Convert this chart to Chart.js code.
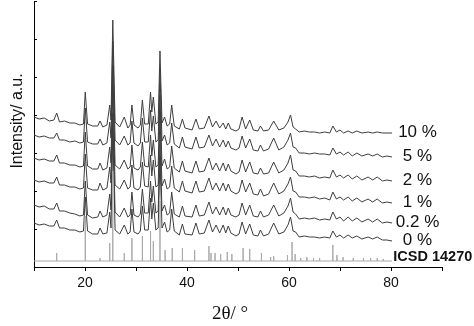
<!DOCTYPE html>
<html>
<head>
<meta charset="utf-8">
<script src="https://cdn.jsdelivr.net/npm/chart.js@4.4.0/dist/chart.umd.min.js"></script>
<style>
html, body { margin: 0; padding: 0; background: #fff; }
</style>
</head>
<body>
<canvas id="myChart" width="474" height="326"></canvas>
<script>
"use strict";
/* ---------------------- DATA --------------------*/
var twoTheta = [
  10.0, 11.0, 12.0, 13.0, 13.9, 14.45, 15.0, 16.0, 17.0, 18.0,
  19.0, 19.7, 20.05, 20.5, 21.5, 22.5, 22.95, 23.5, 24.3, 24.85,
  25.1, 25.45, 25.9, 26.8, 27.7, 28.4, 28.85, 29.2, 29.6, 30.4,
  30.85, 31.25, 31.7, 32.4, 32.85, 33.1, 33.4, 33.9, 34.35, 34.7,
  35.1, 35.6, 36.1, 36.6, 37.0, 37.5, 38.5, 39.1, 39.6, 41.0,
  41.75, 42.4, 43.4, 44.3, 45.0, 45.7, 46.4, 47.1, 47.6, 48.1,
  48.6, 49.6, 50.2, 50.8, 51.5, 52.3, 53.0, 53.9, 54.4, 55.0,
  56.0, 57.0, 58.0, 59.0, 59.8, 60.3, 60.8, 61.3, 62.0, 63.0,
  64.0, 65.0, 66.0, 67.0, 68.0, 68.6, 69.3, 70.0, 70.7, 71.6,
  72.4, 73.3, 74.3, 75.5, 76.4, 77.3, 78.3, 79.2, 80.2
];

var int10 = [
  150,148,149,146,147,154,145,146,144,144,
  142,143,175,143,141,141,146,140,142,162,
  147,247,145,140,150,139,142,162,142,139,
  142,167,143,143,175,155,170,143,145,216,
  144,150,141,143,162,141,138,148,139,137,
  148,138,139,151,140,146,139,144,138,144,
  138,136,138,150,138,147,137,136,141,136,
  137,146,137,139,145,152,140,138,135,136,
  135,135,134,135,134,141,135,137,134,136,
  134,136,134,135,134,135,134,134,134
];
var int5 = [
  132,130,131,129,129,134,127,127,125,126,
  124,125,159,125,123,123,128,122,124,145,
  129,226,127,122,131,122,124,146,124,121,
  124,149,125,125,157,136,151,125,127,196,
  126,132,122,124,144,123,119,130,120,118,
  130,119,120,132,121,128,120,127,120,126,
  119,117,119,131,119,128,117,116,122,116,
  118,129,117,120,127,134,120,119,114,114,
  113,114,113,113,112,119,113,115,112,115,
  111,114,111,113,111,113,110,111,110
];
var int2 = [
  109,107,108,106,106,112,104,104,102,102,
  100,101,135,101,98,98,104,97,99,120,
  104,202,102,98,107,98,100,122,99,97,
  100,125,101,100,132,111,127,100,102,172,
  101,108,98,100,121,99,95,106,96,94,
  106,95,96,109,97,104,96,104,96,103,
  96,93,95,107,95,105,94,93,99,93,
  94,105,94,97,104,112,97,96,91,91,
  90,91,89,90,89,97,90,92,89,92,
  88,91,87,90,87,90,86,87,86
];
var int1 = [
  87,85,86,84,84,90,82,82,80,80,
  78,79,113,79,77,77,84,77,79,100,
  84,182,82,78,87,78,80,102,79,77,
  80,105,81,80,112,91,107,80,82,152,
  81,88,78,80,101,79,75,86,76,74,
  86,75,76,89,77,84,76,84,76,83,
  76,73,75,87,75,84,73,72,78,71,
  73,84,73,76,83,90,76,75,70,70,
  69,70,68,69,67,75,68,70,67,70,
  66,69,65,68,65,68,64,65,64
];
var int02 = [
  62,60,61,58,58,64,56,56,54,53,
  51,52,86,52,49,50,56,50,52,73,
  57,154,55,50,59,50,52,75,52,50,
  53,78,54,54,86,65,81,54,56,127,
  56,62,52,54,75,53,50,61,51,50,
  62,51,52,65,53,60,52,60,52,59,
  52,50,52,64,52,62,51,50,56,50,
  52,62,51,54,61,69,55,53,48,49,
  48,49,47,48,47,55,48,50,46,50,
  46,49,45,48,45,48,44,45,44
];
var int0 = [
  44,42,43,41,41,47,39,39,37,37,
  35,36,70,36,33,33,39,33,34,55,
  39,137,37,33,42,33,35,58,35,33,
  36,61,37,37,69,48,64,37,39,110,
  39,45,35,37,58,36,32,43,33,32,
  44,33,34,47,35,42,34,42,34,41,
  34,31,33,45,33,43,32,31,37,31,
  33,44,33,35,42,50,36,35,30,31,
  30,30,29,30,29,36,30,32,29,32,
  29,31,28,30,28,30,27,27,26
];

// reference pattern (stick lines)
var icsdBase = 6;
var icsdPos = [14.45, 20.05, 22.95, 24.85, 25.45, 27.7, 29.2, 31.25, 32.85, 33.4,
  34.7, 35.7, 37.1, 39.1, 41.5, 44.3, 44.7, 45.5, 46.6, 47.9,
  48.8, 51.0, 52.3, 54.6, 56.4, 57.0, 59.7, 60.6, 61.2, 62.3,
  63.5, 64.8, 66.0, 68.6, 69.4, 70.6, 72.6, 74.6, 76.0, 77.3, 78.5];
var icsdInt = [14, 51, 9, 24, 96, 14, 29, 31, 36, 26,
  66, 17, 19, 19, 17, 21, 14, 14, 13, 15,
  13, 19, 18, 14, 10, 11, 12, 25, 13, 9,
  10, 9, 9, 22, 12, 10, 9, 9, 9, 9, 8];

var seriesNames = ["10 %", "5 %", "2 %", "1 %", "0.2 %", "0 %"];
var seriesData = [int10, int5, int2, int1, int02, int0];
var icsdName = "ICSD 14270";

/* ---------------------- BUILD --------------------*/
function toPoints(values) {
  return values.map(function(v, i) { return {x: twoTheta[i], y: v}; });
}
var icsdPoints = [{x: twoTheta[0], y: icsdBase}];
icsdPos.forEach(function(p, i) {
  icsdPoints.push({x: p, y: icsdBase}, {x: p, y: icsdInt[i]}, {x: p, y: icsdBase});
});
icsdPoints.push({x: twoTheta[twoTheta.length - 1], y: icsdBase});

var datasets = [{
  label: icsdName,
  data: icsdPoints,
  borderColor: '#a9a9a9',
  borderWidth: 1
}];
seriesData.forEach(function(values, i) {
  datasets.push({
    label: seriesNames[i],
    data: toPoints(values),
    borderColor: '#3d3d3d',
    borderWidth: 1
  });
});

/* labels, axis titles and inward y ticks */
var extras = {
  id: 'extras',
  afterDraw: function(chart) {
    var ctx = chart.ctx, xs = chart.scales.x, ys = chart.scales.y;
    ctx.save();
    ctx.strokeStyle = '#000';
    ctx.lineWidth = 1;
    ys.ticks.forEach(function(t) {
      var py = Math.round(ys.getPixelForValue(t.value)) + 0.5;
      ctx.beginPath();
      ctx.moveTo(xs.left, py);
      ctx.lineTo(xs.left + 3, py);
      ctx.stroke();
    });

    ctx.fillStyle = '#111';
    ctx.textBaseline = 'middle';
    ctx.textAlign = 'center';
    ctx.font = "17px 'Liberation Sans', Arial, sans-serif";
    seriesData.forEach(function(values, i) {
      var py = ys.getPixelForValue(values[values.length - 1]) - 1;
      ctx.fillText(seriesNames[i], xs.getPixelForValue(85.2), py);
    });
    ctx.textAlign = 'left';
    ctx.font = "bold 14.5px 'Liberation Sans', Arial, sans-serif";
    ctx.fillText(icsdName, xs.getPixelForValue(80.45), ys.getPixelForValue(icsdBase) - 4);

    // axis titles
    ctx.textAlign = 'center';
    ctx.font = "19px 'Liberation Serif', 'Times New Roman', serif";
    ctx.fillText("2\u03b8/ \u00b0", 230, 314);
    ctx.translate(17.5, 121);
    ctx.rotate(-Math.PI / 2);
    ctx.font = "16px 'Liberation Sans', Arial, sans-serif";
    ctx.fillText("Intensity/ a.u.", 0, 0);
    ctx.restore();
  }
};

/* ---------------------- CHART --------------------*/
var ctx = document.getElementById('myChart').getContext('2d');
var chart = new Chart(ctx, {
  type: 'line',
  data: { datasets: datasets },
  options: {
    responsive: false,
    animation: false,
    events: [],
    layout: { padding: { top: 1, right: 32, left: 0, bottom: 0 } },
    elements: { point: { radius: 0 }, line: { tension: 0 } },
    plugins: { legend: { display: false }, tooltip: { enabled: false } },
    scales: {
      x: {
        type: 'linear',
        min: 10,
        max: 90,
        afterFit: function(s) { s.height = 59; },
        ticks: {
          stepSize: 10,
          autoSkip: false,
          maxRotation: 0,
          padding: 4,
          color: '#111',
          font: { family: "'Liberation Sans', Arial, sans-serif", size: 14 },
          callback: function(v) { return v % 20 === 0 ? v : ''; }
        },
        grid: { drawOnChartArea: false, drawTicks: true, tickLength: 4, tickColor: '#000' },
        border: { color: '#000', width: 1 }
      },
      y: {
        type: 'linear',
        min: 0,
        max: 266,
        afterFit: function(s) { s.width = 34; },
        ticks: { stepSize: 38, display: false },
        grid: { drawOnChartArea: false, drawTicks: false },
        border: { color: '#000', width: 1 }
      }
    }
  },
  plugins: [extras]
});
</script>
</body>
</html>
